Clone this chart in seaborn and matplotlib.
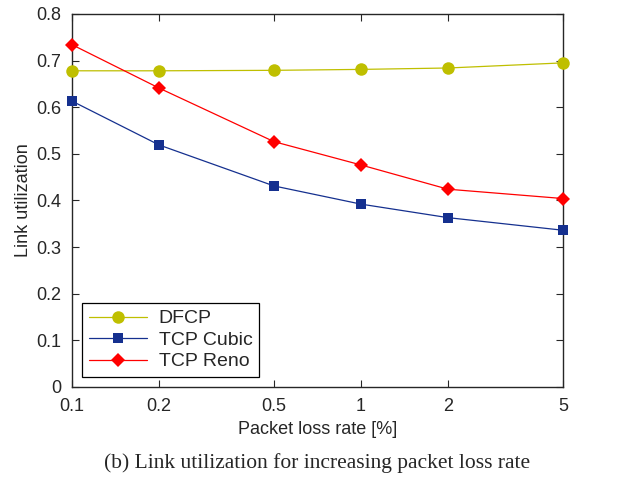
import numpy as np
import pandas as pd
import matplotlib
matplotlib.use("Agg")
import matplotlib.pyplot as plt
import seaborn as sns
from matplotlib.ticker import FixedLocator, NullLocator

loss_rate = [0.1, 0.2, 0.5, 1, 2, 5]
dfcp = [0.678, 0.678, 0.679, 0.681, 0.684, 0.695]
tcp_cubic = [0.613, 0.519, 0.431, 0.392, 0.363, 0.336]
tcp_reno = [0.734, 0.641, 0.526, 0.476, 0.424, 0.404]
tick_labels = ["0.1", "0.2", "0.5", "1", "2", "5"]

series = {"DFCP": dfcp, "TCP Cubic": tcp_cubic, "TCP Reno": tcp_reno}
df = pd.DataFrame(
    [(x, name, v) for name, vals in series.items() for x, v in zip(loss_rate, vals)],
    columns=["loss", "protocol", "util"],
)

sns.set_style("ticks")
plt.rcParams["font.family"] = ["Liberation Sans", "DejaVu Sans"]

fig = plt.figure(figsize=(6.34, 4.8), dpi=100)
ax = fig.add_axes([0.1136, 0.194, 0.7744, 0.777])

palette = {"DFCP": "#bfbf00", "TCP Cubic": "#15308f", "TCP Reno": "#ff0000"}
markers = {"DFCP": "o", "TCP Cubic": "s", "TCP Reno": "D"}
sizes = {"DFCP": 9, "TCP Cubic": 6.5, "TCP Reno": 7}

for name in series:
    sub = df[df["protocol"] == name]
    sns.lineplot(
        data=sub, x="loss", y="util", ax=ax, color=palette[name],
        marker=markers[name], markersize=sizes[name], markeredgewidth=0,
        linewidth=0.9, label=name, clip_on=False, zorder=3,
    )

ax.set_xscale("log")
ax.set_xlim(0.1, 5)
ax.set_ylim(0, 0.8)
ax.xaxis.set_major_locator(FixedLocator(loss_rate))
ax.xaxis.set_minor_locator(NullLocator())
ax.set_xticklabels(tick_labels)
ax.set_yticks(np.arange(0, 0.81, 0.1))
ax.set_yticklabels(["0", "0.1", "0.2", "0.3", "0.4", "0.5", "0.6", "0.7", "0.8"])
ax.tick_params(direction="in", top=True, right=True, labelsize=13, length=5, width=0.8, pad=8)
for s in ax.spines.values():
    s.set_visible(True)
    s.set_linewidth(1.0)
ax.set_xlabel("Packet loss rate [%]", fontsize=13, labelpad=4)
ax.set_ylabel("Link utilization", fontsize=13, labelpad=3)

leg = ax.legend(loc="lower left", fontsize=14, frameon=True, fancybox=False,
                edgecolor="black", framealpha=1, handlelength=3.0,
                borderaxespad=0.5, labelspacing=0.2, borderpad=0.35,
                handletextpad=0.6)
leg.get_frame().set_linewidth(0.9)
leg.set_zorder(5)

fig.text(0.5, 0.035, "(b) Link utilization for increasing packet loss rate",
         ha="center", va="center", fontsize=15.5, family=["Liberation Serif", "DejaVu Serif"])

fig.savefig("out.png", dpi=100)
